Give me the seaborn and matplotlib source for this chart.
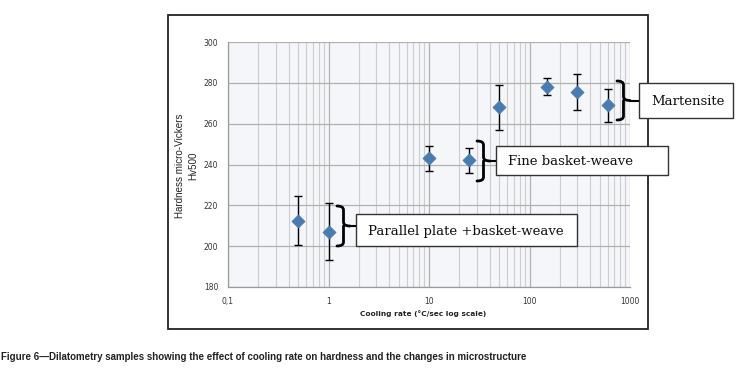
import numpy as np
import pandas as pd
import matplotlib
matplotlib.use("Agg")
import matplotlib.pyplot as plt
import seaborn as sns
from matplotlib.patches import Rectangle, PathPatch
from matplotlib.path import Path
from matplotlib.ticker import FixedLocator, FixedFormatter, LogLocator, NullFormatter

# ---- data ----
cooling_rate = [0.5, 1, 10, 25, 50, 150, 300, 600]
hardness = [212.5, 207, 243, 242, 268, 278, 275.5, 269]
hardness_err = [12, 14, 6, 6, 11, 4.2, 8.8, 8]
x_ticks = [0.1, 1, 10, 100, 1000]
x_tick_labels = ["0,1", "1", "10", "100", "1000"]
y_ticks = [180, 200, 220, 240, 260, 280, 300]
labels = ["Martensite", "Fine basket-weave", "Parallel plate +basket-weave"]
caption = ("Figure 6\u2014Dilatometry samples showing the effect of cooling rate "
           "on hardness and the changes in microstructure")

df = pd.DataFrame({"rate": cooling_rate, "hv": hardness, "err": hardness_err})

sns.set_style("white")
plt.rcParams["font.family"] = ["DejaVu Sans"]

W, H = 741, 378
fig = plt.figure(figsize=(W / 100, H / 100), dpi=100)

def fx(px):
    return px / W

def fy(py):
    return 1 - py / H

# outer frame
fig.patches.append(Rectangle((fx(168), fy(329)), fx(648) - fx(168), fy(15) - fy(329),
                             transform=fig.transFigure, fill=False,
                             edgecolor="#222222", linewidth=1.3, zorder=0))

ax = fig.add_axes([fx(228), fy(287), fx(630) - fx(228), fy(42) - fy(287)])
ax.set_facecolor("#f4f6f9")
ax.set_xscale("log")
ax.set_xlim(0.1, 1000)
ax.set_ylim(180, 300)

ax.xaxis.set_major_locator(FixedLocator(x_ticks))
ax.xaxis.set_major_formatter(FixedFormatter(x_tick_labels))
ax.xaxis.set_minor_locator(LogLocator(base=10, subs=np.arange(2, 10)))
ax.xaxis.set_minor_formatter(NullFormatter())
ax.set_yticks(y_ticks)

ax.grid(True, which="major", color="#b0b0b0", linewidth=0.9)
ax.grid(True, which="minor", axis="x", color="#cdcdcd", linewidth=0.8)
ax.set_axisbelow(True)
for s in ["top", "right"]:
    ax.spines[s].set_visible(False)
for s in ["left", "bottom"]:
    ax.spines[s].set_color("#9a9a9a")
    ax.spines[s].set_linewidth(0.9)
ax.tick_params(axis="both", which="major", length=4, width=0.8, color="#9a9a9a",
               labelsize=5.5, labelcolor="#333333", pad=3)
ax.tick_params(axis="x", which="minor", length=0)

ax.errorbar(df["rate"], df["hv"], yerr=df["err"], fmt="none", ecolor="black",
            elinewidth=1.0, capsize=3, capthick=1.0, zorder=3)
sns.scatterplot(data=df, x="rate", y="hv", marker="D", s=45, color="#4a7bb0",
                edgecolor="#4a7bb0", linewidth=0.5, zorder=4, ax=ax)
ax.set_xlabel("")
ax.set_ylabel("")

fig.text(fx(423), fy(314), "Cooling rate (\u00b0C/sec log scale)", ha="center", va="center",
         fontsize=5.3, fontweight="bold", color="#222222")
fig.text(fx(180), fy(166), "Hardness micro-Vickers", rotation=90, ha="center", va="center",
         fontsize=7.1, color="#222222", family=["Liberation Sans"])
fig.text(fx(193), fy(166), "Hv500", rotation=90, ha="center", va="center",
         fontsize=7.1, color="#222222", family=["Liberation Sans"])

def brace(x0, y0, y1, w=13):
    ym = (y0 + y1) / 2
    xm = x0 + w * 0.5
    r = 4
    verts = [
        (x0, y0), (xm, y0), (xm, y0 + r),
        (xm, ym - r),
        (xm, ym), (x0 + w, ym),
        (xm, ym), (xm, ym + r),
        (xm, y1 - r),
        (xm, y1), (x0, y1),
    ]
    codes = [Path.MOVETO, Path.CURVE3, Path.CURVE3, Path.LINETO,
             Path.CURVE3, Path.CURVE3, Path.MOVETO, Path.CURVE3, Path.LINETO,
             Path.CURVE3, Path.CURVE3]
    verts = [(fx(a), fy(b)) for a, b in verts]
    p = PathPatch(Path(verts, codes), transform=fig.transFigure, fill=False,
                  edgecolor="black", linewidth=2.0, capstyle="round", zorder=5)
    fig.patches.append(p)

def label_box(x0, y0, x1, y1, text):
    fig.patches.append(Rectangle((fx(x0), fy(y1)), fx(x1) - fx(x0), fy(y0) - fy(y1),
                                 transform=fig.transFigure, facecolor="white",
                                 edgecolor="#333333", linewidth=1.0, zorder=5))
    fig.text(fx(x0 + 12), fy((y0 + y1) / 2 + 1), text, ha="left", va="center",
             fontsize=9.5, color="#111111", family=["DejaVu Serif"], zorder=6)

# Martensite
brace(617, 81, 120)
fig.add_artist(plt.Line2D([fx(630), fx(639)], [fy(100.5), fy(100.5)], color="black", lw=1.5))
label_box(639, 83, 733, 118, labels[0])
# Fine basket-weave
brace(477, 141, 181)
fig.add_artist(plt.Line2D([fx(490), fx(496)], [fy(161), fy(161)], color="black", lw=1.5))
label_box(496, 146, 668, 175, labels[1])
# Parallel plate
brace(337, 206, 246)
fig.add_artist(plt.Line2D([fx(350), fx(356)], [fy(226), fy(226)], color="black", lw=1.5))
label_box(356, 214, 577, 246, labels[2])

fig.text(fx(1), fy(357), caption, ha="left", va="center", fontsize=7.0, fontweight="bold",
         color="#222222", family=["Liberation Sans"])

fig.savefig("out.png", dpi=100)
